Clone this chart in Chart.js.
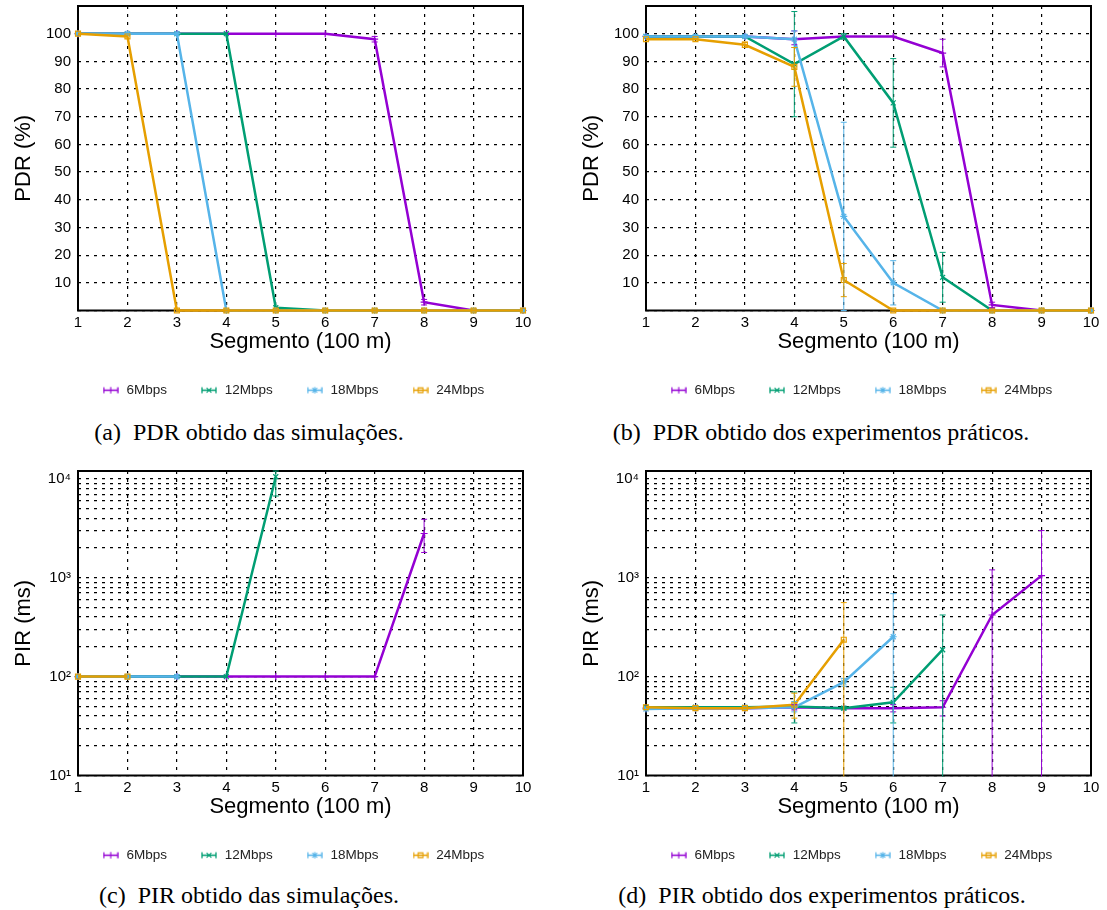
<!DOCTYPE html>
<html>
<head>
<meta charset="utf-8">
<title>PDR e PIR por segmento</title>
<script src="https://cdn.jsdelivr.net/npm/chart.js@4"></script>
<style>
  html, body {
    margin: 0;
    padding: 0;
    background: #fff;
    overflow: hidden;
  }
  #page {
    position: relative;
    width: 1107px;
    height: 910px;
  }
  canvas {
    position: absolute;
  }
  .caption {
    position: absolute;
    width: 600px;
    text-align: center;
    font-family: "Liberation Serif", "Times New Roman", serif;
    font-size: 24px;
    line-height: 28px;
    color: #000;
    white-space: nowrap;
  }
</style>
</head>
<body>
<div id="page">
  <canvas id="pdrSim" width="586" height="407" style="left:0;top:0"></canvas>
  <canvas id="pdrExp" width="586" height="407" style="left:568px;top:0"></canvas>
  <canvas id="pirSim" width="586" height="407" style="left:0;top:465px"></canvas>
  <canvas id="pirExp" width="586" height="407" style="left:568px;top:465px"></canvas>

  <div class="caption" style="left:-51px;top:418px">(a)&ensp;PDR obtido das simulações.</div>
  <div class="caption" style="left:521px;top:418px">(b)&ensp;PDR obtido dos experimentos práticos.</div>
  <div class="caption" style="left:-51px;top:881px">(c)&ensp;PIR obtido das simulações.</div>
  <div class="caption" style="left:522px;top:881px">(d)&ensp;PIR obtido dos experimentos práticos.</div>
</div>

<script>
// x categories and series names
const segments = ['1', '2', '3', '4', '5', '6', '7', '8', '9', '10'];
const seriesNames = ['6Mbps', '12Mbps', '18Mbps', '24Mbps'];

// (a) PDR from simulations (%)
const pdrSim6  = [100, 100, 100, 100, 100, 100, 98, 3, 0, 0];
const pdrSim12 = [100, 100, 100, 100, 1, 0, 0, 0, 0, 0];
const pdrSim18 = [100, 100, 100, 0, 0, 0, 0, 0, 0, 0];
const pdrSim24 = [100, 99, 0, 0, 0, 0, 0, 0, 0, 0];
const pdrSim6Lo = [null, null, null, null, null, null, 97, 2, null, null];
const pdrSim6Hi = [null, null, null, null, null, null, 99, 4, null, null];

// (b) PDR from field experiments (%), with error bars
const pdrExp6  = [99, 99, 99, 98, 99, 99, 93, 2, 0, 0];
const pdrExp12 = [99, 99, 99, 89, 99, 75, 12, 0, 0, 0];
const pdrExp18 = [99, 99, 99, 98, 34, 10, 0, 0, 0, 0];
const pdrExp24 = [98, 98, 96, 88, 11, 0, 0, 0, 0, 0];
const pdrExp6Lo  = [null, null, null, 96, null, null, 88, 1, null, null];
const pdrExp6Hi  = [null, null, null, 101, null, null, 98, 3, null, null];
const pdrExp12Lo = [null, null, null, 70, 98, 59, 3, null, null, null];
const pdrExp12Hi = [null, null, null, 108, 100, 91, 21, null, null, null];
const pdrExp18Lo = [null, null, null, 95, 0, 2, null, null, null, null];
const pdrExp18Hi = [null, null, null, 101, 68, 18, null, null, null, null];
const pdrExp24Lo = [null, null, 95, 81, 5, null, null, null, null, null];
const pdrExp24Hi = [null, null, 97, 95, 17, null, null, null, null, null];

// (c) PIR from simulations (ms)
const pirSim6  = [100, 100, 100, 100, 100, 100, 100, 2800, null, null];
const pirSim12 = [100, 100, 100, 100, 10500, null, null, null, null, null];
const pirSim18 = [100, 100, 100, null, null, null, null, null, null, null];
const pirSim24 = [100, 100, null, null, null, null, null, null, null, null];
const pirSim6Lo  = [null, null, null, null, null, null, null, 1800, null, null];
const pirSim6Hi  = [null, null, null, null, null, null, null, 3900, null, null];
const pirSim12Lo = [null, null, null, null, 6700, null, null, null, null, null];
const pirSim12Hi = [null, null, null, null, 12000, null, null, null, null, null];

// (d) PIR from field experiments (ms), lower bars run below the axis
const pirExp6  = [48, 48, 48, 49, 48, 48, 49, 420, 1050, null];
const pirExp12 = [49, 49, 49, 50, 48, 55, 187, null, null, null];
const pirExp18 = [47, 48, 48, 49, 88, 253, null, null, null, null];
const pirExp24 = [49, 48, 48, 52, 236, null, null, null, null, null];
const pirExp6Lo  = [null, null, null, 46, null, 44, 40, 1, 1, null];
const pirExp6Hi  = [null, null, null, 52, null, 52, 57, 1200, 3000, null];
const pirExp12Lo = [null, null, null, 34, 46, 34, 1, null, null, null];
const pirExp12Hi = [null, null, null, 70, 50, 78, 420, null, null, null];
const pirExp18Lo = [null, null, null, 44, 80, 1, null, null, null, null];
const pirExp18Hi = [null, null, null, 56, 96, 690, null, null, null, null];
const pirExp24Lo = [null, null, null, 38, 1, null, null, null, null, null];
const pirExp24Hi = [null, null, null, 68, 560, null, null, null, null, null];

// y ticks
const pdrMin = 0, pdrMax = 110, pdrStep = 10;
const pirMin = 10, pirMax = 12000;
const pirDecades = [10, 100, 1000];
const pirMantissas = [1, 2, 3, 4, 5, 6, 7, 8, 9];
const pirTicks = pirDecades.flatMap(d => pirMantissas.map(m => m * d)).concat([10000]);

// gnuplot default colours and point types
const colors = ['#9400d3', '#009e73', '#56b4e9', '#e69f00'];
const markers = ['cross', 'crossRot', 'star', 'rect'];

const FONT = '"Liberation Sans", Arial, Helvetica, sans-serif';
const SUP = ['\u2070', '\u00b9', '\u00b2', '\u00b3', '\u2074'];

function drawMarker(g, style, x, y, r) {
  g.beginPath();
  if (style === 'cross' || style === 'star') {
    g.moveTo(x - r, y); g.lineTo(x + r, y);
    g.moveTo(x, y - r); g.lineTo(x, y + r);
  }
  if (style === 'crossRot' || style === 'star') {
    const d = r * 0.75;
    g.moveTo(x - d, y - d); g.lineTo(x + d, y + d);
    g.moveTo(x - d, y + d); g.lineTo(x + d, y - d);
  }
  if (style === 'rect') {
    g.rect(x - r * 0.75, y - r * 0.75, r * 1.5, r * 1.5);
  }
  g.stroke();
}

// legend sample looks like gnuplot's |-+-| errorbar key
const sampleCache = {};
function legendSample(i) {
  if (sampleCache[i]) return sampleCache[i];
  const c = document.createElement('canvas');
  c.width = 16;
  c.height = 9;
  const g = c.getContext('2d');
  g.strokeStyle = colors[i];
  g.lineWidth = 1.3;
  g.beginPath();
  g.moveTo(1, 4.5); g.lineTo(15, 4.5);
  g.moveTo(1, 1.5); g.lineTo(1, 7.5);
  g.moveTo(15, 1.5); g.lineTo(15, 7.5);
  g.stroke();
  g.lineWidth = 1.1;
  drawMarker(g, markers[i], 8, 4.5, 3.2);
  sampleCache[i] = c;
  return c;
}

const framePlugin = {
  id: 'frame',
  beforeDatasetsDraw(chart) {
    const { ctx, chartArea: a } = chart;
    ctx.save();
    ctx.strokeStyle = '#000';
    ctx.lineWidth = 2;
    ctx.strokeRect(a.left, a.top, a.right - a.left, a.bottom - a.top);
    ctx.restore();
  }
};

const errorBarPlugin = {
  id: 'errorBars',
  afterDatasetsDraw(chart) {
    const { ctx, chartArea: a, scales } = chart;
    ctx.save();
    ctx.beginPath();
    ctx.rect(a.left, a.top - 1, a.right - a.left, a.bottom - a.top + 2);
    ctx.clip();
    chart.data.datasets.forEach(ds => {
      if (!ds.errLo) return;
      ctx.strokeStyle = ds.borderColor;
      ctx.lineWidth = 1;
      ds.errLo.forEach((lo, j) => {
        const hi = ds.errHi[j];
        if (lo == null || hi == null) return;
        const px = scales.x.getPixelForValue(j);
        const yl = scales.y.getPixelForValue(lo);
        const yh = scales.y.getPixelForValue(hi);
        ctx.beginPath();
        ctx.moveTo(px, yl); ctx.lineTo(px, yh);
        ctx.moveTo(px - 3, yl); ctx.lineTo(px + 3, yl);
        ctx.moveTo(px - 3, yh); ctx.lineTo(px + 3, yh);
        ctx.stroke();
      });
    });
    ctx.restore();
  }
};

function makeChart(id, series, lows, highs, logY) {
  const datasets = series.map((data, i) => ({
    label: seriesNames[i],
    data: data,
    borderColor: colors[i],
    backgroundColor: colors[i],
    borderWidth: 2.5,
    pointStyle: markers[i],
    pointRadius: 3.5,
    pointBorderWidth: 1.2,
    pointBorderColor: colors[i],
    pointBackgroundColor: 'rgba(0,0,0,0)',
    tension: 0,
    clip: 6,
    order: 3 - i,
    errLo: lows[i],
    errHi: highs[i]
  }));

  const yAxis = {
    position: 'left',
    grid: { color: '#000', lineWidth: 1.2, drawTicks: false },
    border: { display: false, dash: [3, 5] },
    ticks: { color: '#000', font: { family: FONT, size: 15 }, padding: 7, autoSkip: false },
    title: {
      display: true,
      text: logY ? 'PIR (ms)' : 'PDR (%)',
      color: '#000',
      font: { family: FONT, size: 22 },
      padding: { top: 10.8, bottom: 0 }
    },
    afterFit: s => {
      s.width = 78;
      s.paddingTop = 0;
      s.paddingBottom = 0;
    }
  };

  if (logY) {
    yAxis.type = 'logarithmic';
    yAxis.min = pirMin;
    yAxis.max = pirMax;
    yAxis.afterBuildTicks = axis => { axis.ticks = pirTicks.map(v => ({ value: v })); };
    yAxis.ticks.callback = v => {
      const e = Math.round(Math.log10(v));
      return Math.abs(Math.pow(10, e) - v) < 1e-6 ? '10' + SUP[e] : '';
    };
  } else {
    yAxis.type = 'linear';
    yAxis.min = pdrMin;
    yAxis.max = pdrMax;
    yAxis.ticks.stepSize = pdrStep;
    yAxis.ticks.callback = v => (v === pdrMin || v === pdrMax) ? '' : v;
  }

  return new Chart(document.getElementById(id), {
    type: 'line',
    data: { labels: segments, datasets: datasets },
    options: {
      responsive: false,
      animation: false,
      layout: { padding: { top: 6, bottom: 0, left: 0, right: 0 } },
      scales: {
        x: {
          type: 'category',
          grid: { color: '#000', lineWidth: 1.2, drawTicks: false },
          border: { display: false, dash: [3, 5] },
          ticks: { color: '#000', font: { family: FONT, size: 15 }, padding: 3, maxRotation: 0, autoSkip: false },
          title: {
            display: true,
            text: 'Segmento (100 m)',
            color: '#000',
            font: { family: FONT, size: 22 },
            padding: { top: 0, bottom: -5 }
          },
          afterFit: s => {
            s.height = 40;
            s.paddingLeft = 0;
            s.paddingRight = 0;
          }
        },
        y: yAxis,
        // empty right-hand box so the legend centres like gnuplot's key
        pad: {
          type: 'linear',
          position: 'right',
          display: true,
          grid: { display: false },
          border: { display: false },
          ticks: { display: false },
          afterFit: s => {
            s.width = 63;
            s.paddingTop = 0;
            s.paddingBottom = 0;
          }
        }
      },
      plugins: {
        tooltip: { enabled: false },
        legend: {
          position: 'bottom',
          labels: {
            usePointStyle: true,
            pointStyleWidth: 18,
            padding: 33,
            color: '#222',
            font: { family: FONT, size: 13.5 },
            generateLabels: chart => chart.data.datasets.map((ds, i) => ({
              text: ds.label,
              pointStyle: legendSample(i),
              fontColor: '#222',
              fillStyle: 'rgba(0,0,0,0)',
              strokeStyle: 'rgba(0,0,0,0)',
              lineWidth: 0,
              hidden: false,
              datasetIndex: i
            }))
          }
        }
      }
    },
    plugins: [framePlugin, errorBarPlugin]
  });
}

makeChart('pdrSim',
  [pdrSim6, pdrSim12, pdrSim18, pdrSim24],
  [pdrSim6Lo, null, null, null],
  [pdrSim6Hi, null, null, null], false);

makeChart('pdrExp',
  [pdrExp6, pdrExp12, pdrExp18, pdrExp24],
  [pdrExp6Lo, pdrExp12Lo, pdrExp18Lo, pdrExp24Lo],
  [pdrExp6Hi, pdrExp12Hi, pdrExp18Hi, pdrExp24Hi], false);

makeChart('pirSim',
  [pirSim6, pirSim12, pirSim18, pirSim24],
  [pirSim6Lo, pirSim12Lo, null, null],
  [pirSim6Hi, pirSim12Hi, null, null], true);

makeChart('pirExp',
  [pirExp6, pirExp12, pirExp18, pirExp24],
  [pirExp6Lo, pirExp12Lo, pirExp18Lo, pirExp24Lo],
  [pirExp6Hi, pirExp12Hi, pirExp18Hi, pirExp24Hi], true);
</script>
</body>
</html>
